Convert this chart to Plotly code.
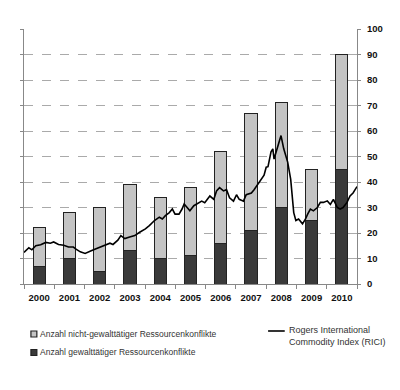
import plotly.graph_objects as go

years = ["2000", "2001", "2002", "2003", "2004", "2005", "2006", "2007", "2008", "2009", "2010"]
violent = [7, 10, 5, 13, 10, 11, 16, 21, 30, 25, 45]
nonviolent = [15, 18, 25, 26, 24, 27, 36, 46, 41, 20, 45]

rici_time = [2000.00, 2000.16, 2000.26, 2000.39, 2000.55, 2000.72, 2000.87, 2000.98, 2001.14, 2001.31,
             2001.47, 2001.63, 2001.73, 2001.86, 2002.02, 2002.12, 2002.22, 2002.38, 2002.55, 2002.71,
             2002.84, 2002.94, 2003.10, 2003.20, 2003.33, 2003.49, 2003.66, 2003.82, 2003.92, 2004.01,
             2004.14, 2004.31, 2004.47, 2004.57, 2004.67, 2004.80, 2004.90, 2004.99, 2005.12, 2005.22,
             2005.29, 2005.39, 2005.48, 2005.61, 2005.78, 2005.87, 2005.97, 2006.14, 2006.27, 2006.36,
             2006.46, 2006.59, 2006.69, 2006.79, 2006.92, 2007.02, 2007.11, 2007.25, 2007.34, 2007.51,
             2007.60, 2007.74, 2007.83, 2007.93, 2008.00, 2008.06, 2008.16, 2008.22, 2008.26, 2008.39,
             2008.49, 2008.58, 2008.71, 2008.81, 2008.88, 2008.91, 2008.98, 2009.07, 2009.20, 2009.30,
             2009.37, 2009.46, 2009.56, 2009.69, 2009.79, 2009.89, 2010.02, 2010.12, 2010.22, 2010.35,
             2010.44, 2010.54, 2010.67, 2010.77, 2010.87, 2011.00]
rici_value = [12.4, 14.2, 13.4, 15.0, 15.4, 16.3, 16.0, 16.5, 15.5, 15.2,
              14.5, 14.5, 13.6, 12.6, 12.0, 12.4, 13.0, 13.8, 14.5, 15.4,
              16.0, 15.5, 17.2, 19.0, 17.8, 18.4, 19.0, 20.3, 21.0, 21.6,
              22.9, 24.9, 26.2, 25.5, 26.8, 28.0, 29.4, 27.4, 27.4, 29.4,
              31.4, 30.0, 28.7, 30.7, 32.0, 32.5, 31.9, 34.5, 33.2, 36.5,
              37.8, 36.5, 37.0, 33.8, 32.5, 35.0, 33.2, 32.5, 35.0, 35.7,
              37.0, 39.5, 40.8, 42.7, 45.8, 46.0, 51.8, 53.0, 49.0, 54.3,
              58.2, 53.0, 47.8, 41.0, 32.5, 28.0, 24.9, 25.5, 23.6, 25.5,
              27.4, 29.4, 28.7, 30.0, 32.0, 32.0, 32.6, 31.2, 33.2, 30.0,
              29.4, 30.0, 32.0, 34.5, 35.7, 38.2]

y_ticks = list(range(0, 101, 10))

label_nonviolent = "Anzahl nicht-gewalttätiger Ressourcenkonflikte"
label_violent = "Anzahl gewalttätiger Ressourcenkonflikte"
label_rici = "Rogers International<br>Commodity Index (RICI)"

FONT = "Liberation Sans, Arial, sans-serif"
DARK = "#3a3a3a"
LIGHT = "#c4c4c4"
EDGE = "#222"

fig = go.Figure()
fig.add_trace(go.Bar(
    x=years, y=violent, name=label_violent,
    marker=dict(color=DARK, line=dict(color=EDGE, width=1)),
    width=0.4,
))
fig.add_trace(go.Bar(
    x=years, y=nonviolent, name=label_nonviolent,
    marker=dict(color=LIGHT, line=dict(color=EDGE, width=1)),
    width=0.4,
))
fig.add_trace(go.Scatter(
    x=rici_time, y=rici_value, xaxis="x2", mode="lines",
    name=label_rici, line=dict(color="#000", width=1.6),
))

# legend drawn below the plot (swatches + text)
legend_font = dict(size=8.5, color="#333", family=FONT)
shapes = [
    dict(type="rect", xref="paper", yref="paper", x0=0.0208, x1=0.0386, y0=-0.2078, y1=-0.1843,
         fillcolor=LIGHT, line=dict(color=EDGE, width=1.2)),
    dict(type="rect", xref="paper", yref="paper", x0=0.0208, x1=0.0386, y0=-0.2804, y1=-0.2569,
         fillcolor=DARK, line=dict(color=EDGE, width=1.2)),
    dict(type="line", xref="paper", yref="paper", x0=0.733, x1=0.783, y0=-0.1843, y1=-0.1843,
         line=dict(color="#000", width=1.6)),
]
annotations = [
    dict(text=label_nonviolent, xref="paper", yref="paper", x=0.041, y=-0.196,
         xanchor="left", yanchor="middle", showarrow=False, font=legend_font),
    dict(text=label_violent, xref="paper", yref="paper", x=0.041, y=-0.2686,
         xanchor="left", yanchor="middle", showarrow=False, font=legend_font),
    dict(text=label_rici, xref="paper", yref="paper", x=0.789, y=-0.205,
         xanchor="left", yanchor="middle", align="left", showarrow=False,
         font=dict(size=9, color="#333", family=FONT)),
]

fig.update_layout(
    width=392, height=382,
    margin=dict(l=12, r=43, t=21, b=106),
    paper_bgcolor="white", plot_bgcolor="white",
    barmode="stack", bargap=0.6,
    showlegend=False,
    font=dict(family=FONT, color="#222"),
    shapes=shapes, annotations=annotations,
    xaxis=dict(
        type="category", showline=True, linecolor="#888", linewidth=1,
        ticks="outside", tickson="boundaries", ticklen=4, tickcolor="#888",
        tickangle=0, ticklabelstandoff=5,
        tickfont=dict(size=9.5, color="#111", family=FONT, weight="bold"),
        showgrid=False, fixedrange=True,
    ),
    xaxis2=dict(overlaying="x", range=[2000, 2011], visible=False, showgrid=False),
    yaxis=dict(
        side="right", range=[0, 100], tickvals=y_ticks,
        showline=True, linecolor="#888", linewidth=1, mirror="ticks",
        ticks="outside", ticklen=3, tickcolor="#888", ticklabelstandoff=4,
        showgrid=True, gridcolor="#aaa", griddash="dash", gridwidth=1,
        tickfont=dict(size=9.5, color="#111", family=FONT, weight="bold"),
        zeroline=False,
    ),
)

fig.write_html("out.html")
